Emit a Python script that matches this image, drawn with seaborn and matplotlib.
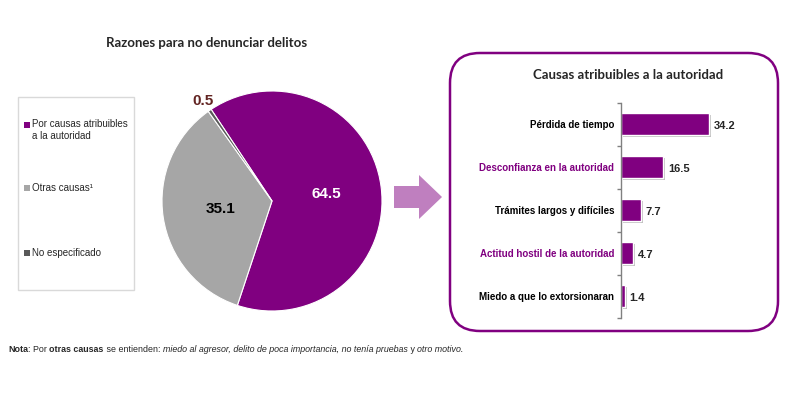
import seaborn as sns
import matplotlib.pyplot as plt
import matplotlib.patches as mpatches
import matplotlib.patheffects as pe
import numpy as np
import pandas as pd

# data
pie_labels = ["Por causas atribuibles\na la autoridad", "Otras causas¹", "No especificado"]
pie_values = [64.5, 35.1, 0.5]
pie_colors = ["#800080", "#a6a6a6", "#595959"]

causas = ["Pérdida de tiempo", "Desconfianza en la autoridad", "Trámites largos y difíciles",
          "Actitud hostil de la autoridad", "Miedo a que lo extorsionaran"]
causas_vals = [34.2, 16.5, 7.7, 4.7, 1.4]
label_colors = ["black", "#800080", "black", "#800080", "black"]

purple = "#800080"

sns.set_theme(style="white")
plt.rcParams['font.family'] = ['Liberation Sans', 'DejaVu Sans']

fig = plt.figure(figsize=(8, 3.93), dpi=100)

# --- pie ---
ax_pie = fig.add_axes([162 / 800, 82 / 393, 220 / 800, 220 / 393])
wedges, _ = ax_pie.pie(pie_values, colors=pie_colors, startangle=123.6, counterclock=False,
                       wedgeprops=dict(linewidth=0.8, edgecolor="white"))
ax_pie.set_xlim(-1, 1)
ax_pie.set_ylim(-1, 1)
ax_pie.set_aspect("equal")
pie_txt = [(0.5, "white"), (0.47, "black"), (1.1, "#632523")]
for w, v, (r, c) in zip(wedges, pie_values, pie_txt):
    ang = np.deg2rad((w.theta1 + w.theta2) / 2)
    ax_pie.text(r * np.cos(ang), r * np.sin(ang), f"{v}", ha="center", va="center",
                fontsize=11, fontweight="bold", color=c, clip_on=False)

fig.text(207 / 800, 1 - 43 / 393, "Razones para no denunciar delitos", ha="center", va="center",
         fontsize=9.5, fontweight="bold", family=["Lato", "DejaVu Sans"])

# legend box
fig.patches.append(mpatches.Rectangle((0.18, 1.03), 1.16, 1.93, transform=fig.dpi_scale_trans,
                                      facecolor="white", edgecolor="#d9d9d9", lw=1))
leg_y = [125, 188, 253]
for lab, col, y in zip(pie_labels, pie_colors, leg_y):
    fig.patches.append(mpatches.Rectangle((0.24, (393 - y) / 100 - 0.03), 0.06, 0.06,
                                          transform=fig.dpi_scale_trans, facecolor=col, lw=0))
    if "\n" in lab:
        fig.text(32 / 800, 1 - (y - 6) / 393, lab, ha="left", va="top", fontsize=7, linespacing=1.25)
    else:
        fig.text(32 / 800, 1 - y / 393, lab, ha="left", va="center", fontsize=7)

# arrow
fig.patches.append(mpatches.FancyArrow(3.94, (393 - 197) / 100, 0.48, 0, width=0.22, head_width=0.44,
                                       head_length=0.23, length_includes_head=True,
                                       transform=fig.dpi_scale_trans, color="#bf7fbf", lw=0))

# rounded box
fig.patches.append(mpatches.FancyBboxPatch((4.5, 0.62), 3.28, 2.78,
                                           boxstyle="round,pad=0,rounding_size=0.3",
                                           transform=fig.dpi_scale_trans, facecolor="none",
                                           edgecolor=purple, lw=1.8))
fig.text(628 / 800, 1 - 75 / 393, "Causas atribuibles a la autoridad", ha="center", va="center",
         fontsize=9.5, fontweight="bold", family=["Lato", "DejaVu Sans"])

# --- bars ---
df = pd.DataFrame({"causa": causas, "valor": causas_vals})
ax_bar = fig.add_axes([621 / 800, (393 - 317.5) / 393, 154 / 800, 215 / 393])
sns.barplot(data=df, x="valor", y="causa", color=purple, width=0.5, ax=ax_bar, saturation=1)
for bar in ax_bar.patches:
    bar.set_path_effects([pe.SimplePatchShadow(offset=(1.5, -1.5), shadow_rgbFace="#999999", alpha=0.6),
                          pe.Normal()])
for i, v in enumerate(causas_vals):
    ax_bar.text(v + 1.8, i + 0.05, f"{v}", va="center", ha="left", fontsize=8, fontweight="bold")
ax_bar.set_xlim(0, 60)
ax_bar.set_ylim(4.5, -0.5)
ax_bar.set_xlabel("")
ax_bar.set_ylabel("")
ax_bar.set_xticks([])
ax_bar.tick_params(axis="y", length=0, pad=5)
ax_bar.set_yticks([i - 0.5 for i in range(6)], minor=True)
ax_bar.tick_params(axis="y", which="minor", length=3, direction="out", left=True, color="#808080")
for t, c in zip(ax_bar.get_yticklabels(), label_colors):
    t.set_color(c)
    t.set_fontweight("bold")
    t.set_fontsize(7)
for s in ["top", "right", "bottom"]:
    ax_bar.spines[s].set_visible(False)
ax_bar.spines["left"].set_color("#808080")
ax_bar.spines["left"].set_linewidth(1)

# note with mixed styles
parts = [("Nota", "bold", "normal"), (": Por ", "normal", "normal"), ("otras causas", "bold", "normal"),
         (" se entienden: ", "normal", "normal"),
         ("miedo al agresor, delito de poca importancia, no tenía pruebas", "normal", "italic"),
         (" y ", "normal", "normal"), ("otro motivo.", "normal", "italic")]
prev = fig.text(8 / 800, 1 - 354 / 393, parts[0][0], fontsize=6.4, fontweight=parts[0][1],
                fontstyle=parts[0][2], va="bottom", ha="left")
for txt, wgt, sty in parts[1:]:
    prev = fig.add_artist(plt.Annotation(txt, xy=(1, 0), xycoords=prev, va="bottom", ha="left",
                                         fontsize=6.4, fontweight=wgt, fontstyle=sty,
                                         annotation_clip=False))

fig.savefig("out.png", dpi=100)
